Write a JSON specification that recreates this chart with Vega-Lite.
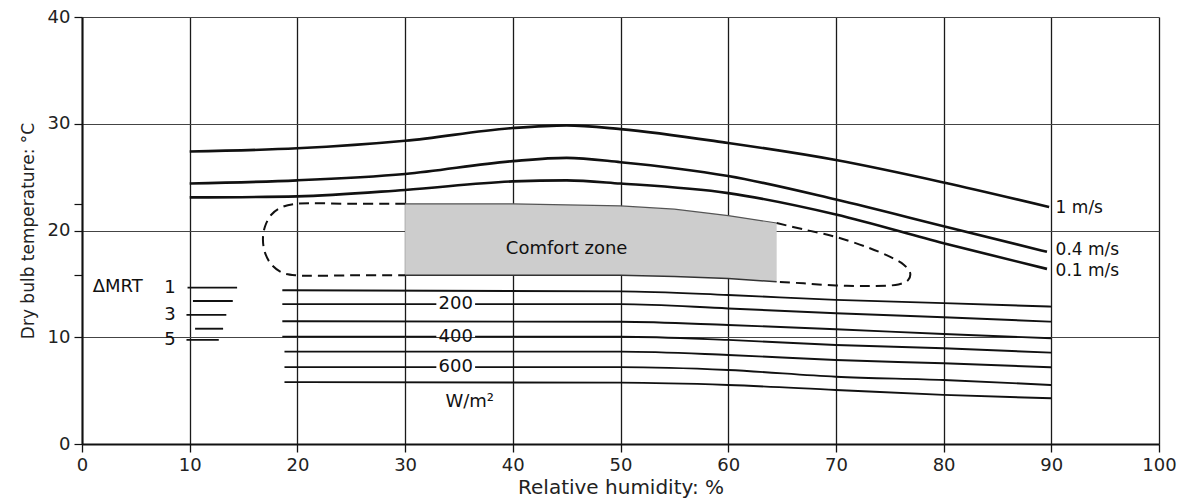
{
  "$schema": "https://vega.github.io/schema/vega-lite/v6.json",
  "width": 1077,
  "height": 427,
  "autosize": {"type": "none"},
  "padding": {"left": 82, "top": 17, "right": 23, "bottom": 59},
  "background": "white",
  "config": {"view": {"stroke": null}, "font": "DejaVu Sans"},
  "datasets": {
    "zone": [
      {"x": 30, "top": 22.5, "bottom": 15.8},
      {"x": 40, "top": 22.5, "bottom": 15.8},
      {"x": 50, "top": 22.3, "bottom": 15.8},
      {"x": 55, "top": 22.0, "bottom": 15.7},
      {"x": 60, "top": 21.4, "bottom": 15.5},
      {"x": 64.5, "top": 20.7, "bottom": 15.2}
    ],
    "boundary": [
      {"part": "left", "i": 1, "x": 30, "y": 22.5},
      {"part": "left", "i": 2, "x": 25, "y": 22.5},
      {"part": "left", "i": 3, "x": 19.9, "y": 22.5},
      {"part": "left", "i": 4, "x": 18.6, "y": 22.2},
      {"part": "left", "i": 5, "x": 17.6, "y": 21.5},
      {"part": "left", "i": 6, "x": 17.0, "y": 20.4},
      {"part": "left", "i": 7, "x": 16.8, "y": 19.2},
      {"part": "left", "i": 8, "x": 17.0, "y": 17.9},
      {"part": "left", "i": 9, "x": 17.6, "y": 16.8},
      {"part": "left", "i": 10, "x": 18.6, "y": 16.05},
      {"part": "left", "i": 11, "x": 19.9, "y": 15.8},
      {"part": "left", "i": 12, "x": 25, "y": 15.8},
      {"part": "left", "i": 13, "x": 30, "y": 15.8},
      {"part": "right", "i": 1, "x": 64.5, "y": 20.7},
      {"part": "right", "i": 2, "x": 67, "y": 20.1},
      {"part": "right", "i": 3, "x": 70, "y": 19.4},
      {"part": "right", "i": 4, "x": 73, "y": 18.4},
      {"part": "right", "i": 5, "x": 75, "y": 17.55},
      {"part": "right", "i": 6, "x": 76.3, "y": 16.8},
      {"part": "right", "i": 7, "x": 76.9, "y": 16.0},
      {"part": "right", "i": 8, "x": 76.7, "y": 15.35},
      {"part": "right", "i": 9, "x": 75.8, "y": 14.95},
      {"part": "right", "i": 10, "x": 73, "y": 14.8},
      {"part": "right", "i": 11, "x": 70, "y": 14.85},
      {"part": "right", "i": 12, "x": 67, "y": 15.05},
      {"part": "right", "i": 13, "x": 64.5, "y": 15.2}
    ],
    "wind": [
      {"speed": "1 m/s", "x": 10, "y": 27.4},
      {"speed": "1 m/s", "x": 20, "y": 27.7},
      {"speed": "1 m/s", "x": 30, "y": 28.4},
      {"speed": "1 m/s", "x": 40, "y": 29.6},
      {"speed": "1 m/s", "x": 45, "y": 29.85},
      {"speed": "1 m/s", "x": 50, "y": 29.5},
      {"speed": "1 m/s", "x": 60, "y": 28.2},
      {"speed": "1 m/s", "x": 70, "y": 26.6},
      {"speed": "1 m/s", "x": 80, "y": 24.5},
      {"speed": "1 m/s", "x": 89.8, "y": 22.2},
      {"speed": "0.4 m/s", "x": 10, "y": 24.4},
      {"speed": "0.4 m/s", "x": 20, "y": 24.7},
      {"speed": "0.4 m/s", "x": 30, "y": 25.3},
      {"speed": "0.4 m/s", "x": 40, "y": 26.5},
      {"speed": "0.4 m/s", "x": 45, "y": 26.8},
      {"speed": "0.4 m/s", "x": 50, "y": 26.4},
      {"speed": "0.4 m/s", "x": 60, "y": 25.1},
      {"speed": "0.4 m/s", "x": 70, "y": 22.9},
      {"speed": "0.4 m/s", "x": 80, "y": 20.4},
      {"speed": "0.4 m/s", "x": 89.6, "y": 18.0},
      {"speed": "0.1 m/s", "x": 10, "y": 23.1},
      {"speed": "0.1 m/s", "x": 20, "y": 23.2},
      {"speed": "0.1 m/s", "x": 30, "y": 23.8},
      {"speed": "0.1 m/s", "x": 40, "y": 24.6},
      {"speed": "0.1 m/s", "x": 45, "y": 24.7},
      {"speed": "0.1 m/s", "x": 50, "y": 24.4},
      {"speed": "0.1 m/s", "x": 60, "y": 23.5},
      {"speed": "0.1 m/s", "x": 70, "y": 21.5},
      {"speed": "0.1 m/s", "x": 80, "y": 18.8},
      {"speed": "0.1 m/s", "x": 89.6, "y": 16.4}
    ],
    "heat": [
      {"line": "h1", "x": 18.6, "y": 14.4},
      {"line": "h1", "x": 50, "y": 14.3},
      {"line": "h1", "x": 60, "y": 13.96},
      {"line": "h1", "x": 70, "y": 13.5},
      {"line": "h1", "x": 80, "y": 13.2},
      {"line": "h1", "x": 90, "y": 12.87},
      {"line": "h2a", "x": 18.6, "y": 13.1},
      {"line": "h2a", "x": 32.9, "y": 13.1},
      {"line": "h2b", "x": 36.5, "y": 13.1},
      {"line": "h2b", "x": 50, "y": 13.1},
      {"line": "h2b", "x": 60, "y": 12.7},
      {"line": "h2b", "x": 70, "y": 12.25},
      {"line": "h2b", "x": 80, "y": 11.87},
      {"line": "h2b", "x": 90, "y": 11.46},
      {"line": "h3", "x": 18.6, "y": 11.5},
      {"line": "h3", "x": 50, "y": 11.45},
      {"line": "h3", "x": 60, "y": 11.15},
      {"line": "h3", "x": 70, "y": 10.75},
      {"line": "h3", "x": 80, "y": 10.3},
      {"line": "h3", "x": 90, "y": 9.9},
      {"line": "h4a", "x": 18.6, "y": 10.06},
      {"line": "h4a", "x": 32.9, "y": 10.06},
      {"line": "h4b", "x": 36.5, "y": 10.06},
      {"line": "h4b", "x": 50, "y": 10.05},
      {"line": "h4b", "x": 60, "y": 9.75},
      {"line": "h4b", "x": 70, "y": 9.28},
      {"line": "h4b", "x": 80, "y": 8.97},
      {"line": "h4b", "x": 90, "y": 8.56},
      {"line": "h5", "x": 18.8, "y": 8.65},
      {"line": "h5", "x": 50, "y": 8.65},
      {"line": "h5", "x": 60, "y": 8.34},
      {"line": "h5", "x": 70, "y": 7.87},
      {"line": "h5", "x": 80, "y": 7.56},
      {"line": "h5", "x": 90, "y": 7.19},
      {"line": "h6a", "x": 18.8, "y": 7.2},
      {"line": "h6a", "x": 32.9, "y": 7.2},
      {"line": "h6b", "x": 36.5, "y": 7.2},
      {"line": "h6b", "x": 50, "y": 7.2},
      {"line": "h6b", "x": 60, "y": 6.93},
      {"line": "h6b", "x": 70, "y": 6.3},
      {"line": "h6b", "x": 80, "y": 6.0},
      {"line": "h6b", "x": 90, "y": 5.53},
      {"line": "h7", "x": 18.8, "y": 5.8},
      {"line": "h7", "x": 50, "y": 5.75},
      {"line": "h7", "x": 60, "y": 5.53},
      {"line": "h7", "x": 70, "y": 5.06},
      {"line": "h7", "x": 80, "y": 4.6},
      {"line": "h7", "x": 90, "y": 4.28}
    ],
    "mrt": [
      {"line": "m1", "x": 9.8, "y": 14.65},
      {"line": "m1", "x": 14.4, "y": 14.65},
      {"line": "m2", "x": 10.3, "y": 13.4},
      {"line": "m2", "x": 14.0, "y": 13.4},
      {"line": "m3", "x": 9.7, "y": 12.1},
      {"line": "m3", "x": 13.4, "y": 12.1},
      {"line": "m4", "x": 10.5, "y": 10.8},
      {"line": "m4", "x": 13.1, "y": 10.8},
      {"line": "m5", "x": 9.7, "y": 9.75},
      {"line": "m5", "x": 12.7, "y": 9.75}
    ],
    "labels": [
      {"group": "wind", "text": "1 m/s", "x": 90.4, "y": 22.1},
      {"group": "wind", "text": "0.4 m/s", "x": 90.4, "y": 18.2},
      {"group": "wind", "text": "0.1 m/s", "x": 90.4, "y": 16.2},
      {"group": "heat", "text": "200", "x": 34.7, "y": 13.1},
      {"group": "heat", "text": "400", "x": 34.7, "y": 10.06},
      {"group": "heat", "text": "600", "x": 34.7, "y": 7.2},
      {"group": "heat", "text": "W/m²", "x": 36.0, "y": 3.9},
      {"group": "zone", "text": "Comfort zone", "x": 45, "y": 18.3},
      {"group": "mrttitle", "text": "ΔMRT", "x": 1.0, "y": 14.7},
      {"group": "mrtnum", "text": "1", "x": 8.7, "y": 14.65},
      {"group": "mrtnum", "text": "3", "x": 8.7, "y": 12.1},
      {"group": "mrtnum", "text": "5", "x": 8.7, "y": 9.75}
    ]
  },
  "layer": [
    {
      "data": {"name": "zone"},
      "mark": {"type": "area", "color": "#cdcdcd"},
      "encoding": {
        "x": {
          "field": "x", "type": "quantitative",
          "scale": {"domain": [0, 100], "nice": false},
          "axis": {
            "values": [0, 10, 20, 30, 40, 50, 60, 70, 80, 90, 100],
            "title": "Relative humidity: %",
            "grid": true, "gridColor": "#1a1a1a", "gridWidth": 1.3,
            "domainColor": "#111", "domainWidth": 2,
            "tickColor": "#111", "tickSize": 8, "tickWidth": 1.3,
            "labelFontSize": 18, "labelColor": "#222", "labelPadding": 4,
            "labelFlush": false,
            "titleFontSize": 20, "titleFontWeight": "normal", "titleColor": "#222", "titlePadding": 3
          }
        },
        "y": {
          "field": "top", "type": "quantitative",
          "scale": {"domain": [0, 40], "nice": false},
          "axis": {
            "values": [0, 10, 15.8, 20, 22.5, 30, 40],
            "labelExpr": "datum.value % 10 === 0 ? datum.label : ''",
            "title": "Dry bulb temperature: °C",
            "grid": true,
            "gridColor": "#444", "gridWidth": 1,
            "gridOpacity": {"condition": {"test": "datum.value % 10 === 0", "value": 1}, "value": 0},
            "domainColor": "#111", "domainWidth": 2,
            "tickColor": "#111", "tickSize": 8, "tickWidth": 1.2,
            "labelFontSize": 18, "labelColor": "#222", "labelPadding": 4,
            "labelFlush": false,
            "titleFontSize": 17, "titleFontWeight": "normal", "titleColor": "#222", "titlePadding": 10
          }
        },
        "y2": {"field": "bottom"}
      }
    },
    {
      "data": {"name": "zone"},
      "mark": {"type": "line", "color": "#555", "strokeWidth": 1.2},
      "encoding": {
        "x": {"field": "x", "type": "quantitative"},
        "y": {"field": "top", "type": "quantitative"}
      }
    },
    {
      "data": {"name": "zone"},
      "mark": {"type": "line", "color": "#333", "strokeWidth": 1.5},
      "encoding": {
        "x": {"field": "x", "type": "quantitative"},
        "y": {"field": "bottom", "type": "quantitative"}
      }
    },
    {
      "data": {"name": "boundary"},
      "mark": {"type": "line", "color": "#111", "strokeWidth": 2, "strokeDash": [10, 6], "interpolate": "catmull-rom"},
      "encoding": {
        "x": {"field": "x", "type": "quantitative"},
        "y": {"field": "y", "type": "quantitative"},
        "detail": {"field": "part"},
        "order": {"field": "i", "type": "quantitative"}
      }
    },
    {
      "data": {"name": "wind"},
      "mark": {"type": "line", "color": "#111", "strokeWidth": 2.6, "interpolate": "monotone"},
      "encoding": {
        "x": {"field": "x", "type": "quantitative"},
        "y": {"field": "y", "type": "quantitative"},
        "detail": {"field": "speed"}
      }
    },
    {
      "data": {"name": "heat"},
      "mark": {"type": "line", "color": "#111", "strokeWidth": 1.9, "interpolate": "monotone"},
      "encoding": {
        "x": {"field": "x", "type": "quantitative"},
        "y": {"field": "y", "type": "quantitative"},
        "detail": {"field": "line"}
      }
    },
    {
      "data": {"name": "mrt"},
      "mark": {"type": "line", "color": "#111", "strokeWidth": 1.9},
      "encoding": {
        "x": {"field": "x", "type": "quantitative"},
        "y": {"field": "y", "type": "quantitative"},
        "detail": {"field": "line"}
      }
    },
    {
      "data": {"name": "labels"},
      "transform": [{"filter": "datum.group === 'wind'"}],
      "mark": {"type": "text", "align": "left", "baseline": "middle", "fontSize": 17, "color": "#111"},
      "encoding": {
        "x": {"field": "x", "type": "quantitative"},
        "y": {"field": "y", "type": "quantitative"},
        "text": {"field": "text"}
      }
    },
    {
      "data": {"name": "labels"},
      "transform": [{"filter": "datum.group === 'heat'"}],
      "mark": {"type": "text", "align": "center", "baseline": "middle", "fontSize": 18, "color": "#111"},
      "encoding": {
        "x": {"field": "x", "type": "quantitative"},
        "y": {"field": "y", "type": "quantitative"},
        "text": {"field": "text"}
      }
    },
    {
      "data": {"name": "labels"},
      "transform": [{"filter": "datum.group === 'zone'"}],
      "mark": {"type": "text", "align": "center", "baseline": "middle", "fontSize": 18, "color": "#111"},
      "encoding": {
        "x": {"field": "x", "type": "quantitative"},
        "y": {"field": "y", "type": "quantitative"},
        "text": {"field": "text"}
      }
    },
    {
      "data": {"name": "labels"},
      "transform": [{"filter": "datum.group === 'mrttitle'"}],
      "mark": {"type": "text", "align": "left", "baseline": "middle", "fontSize": 18, "color": "#111"},
      "encoding": {
        "x": {"field": "x", "type": "quantitative"},
        "y": {"field": "y", "type": "quantitative"},
        "text": {"field": "text"}
      }
    },
    {
      "data": {"name": "labels"},
      "transform": [{"filter": "datum.group === 'mrtnum'"}],
      "mark": {"type": "text", "align": "right", "baseline": "middle", "fontSize": 18, "color": "#111"},
      "encoding": {
        "x": {"field": "x", "type": "quantitative"},
        "y": {"field": "y", "type": "quantitative"},
        "text": {"field": "text"}
      }
    }
  ]
}
